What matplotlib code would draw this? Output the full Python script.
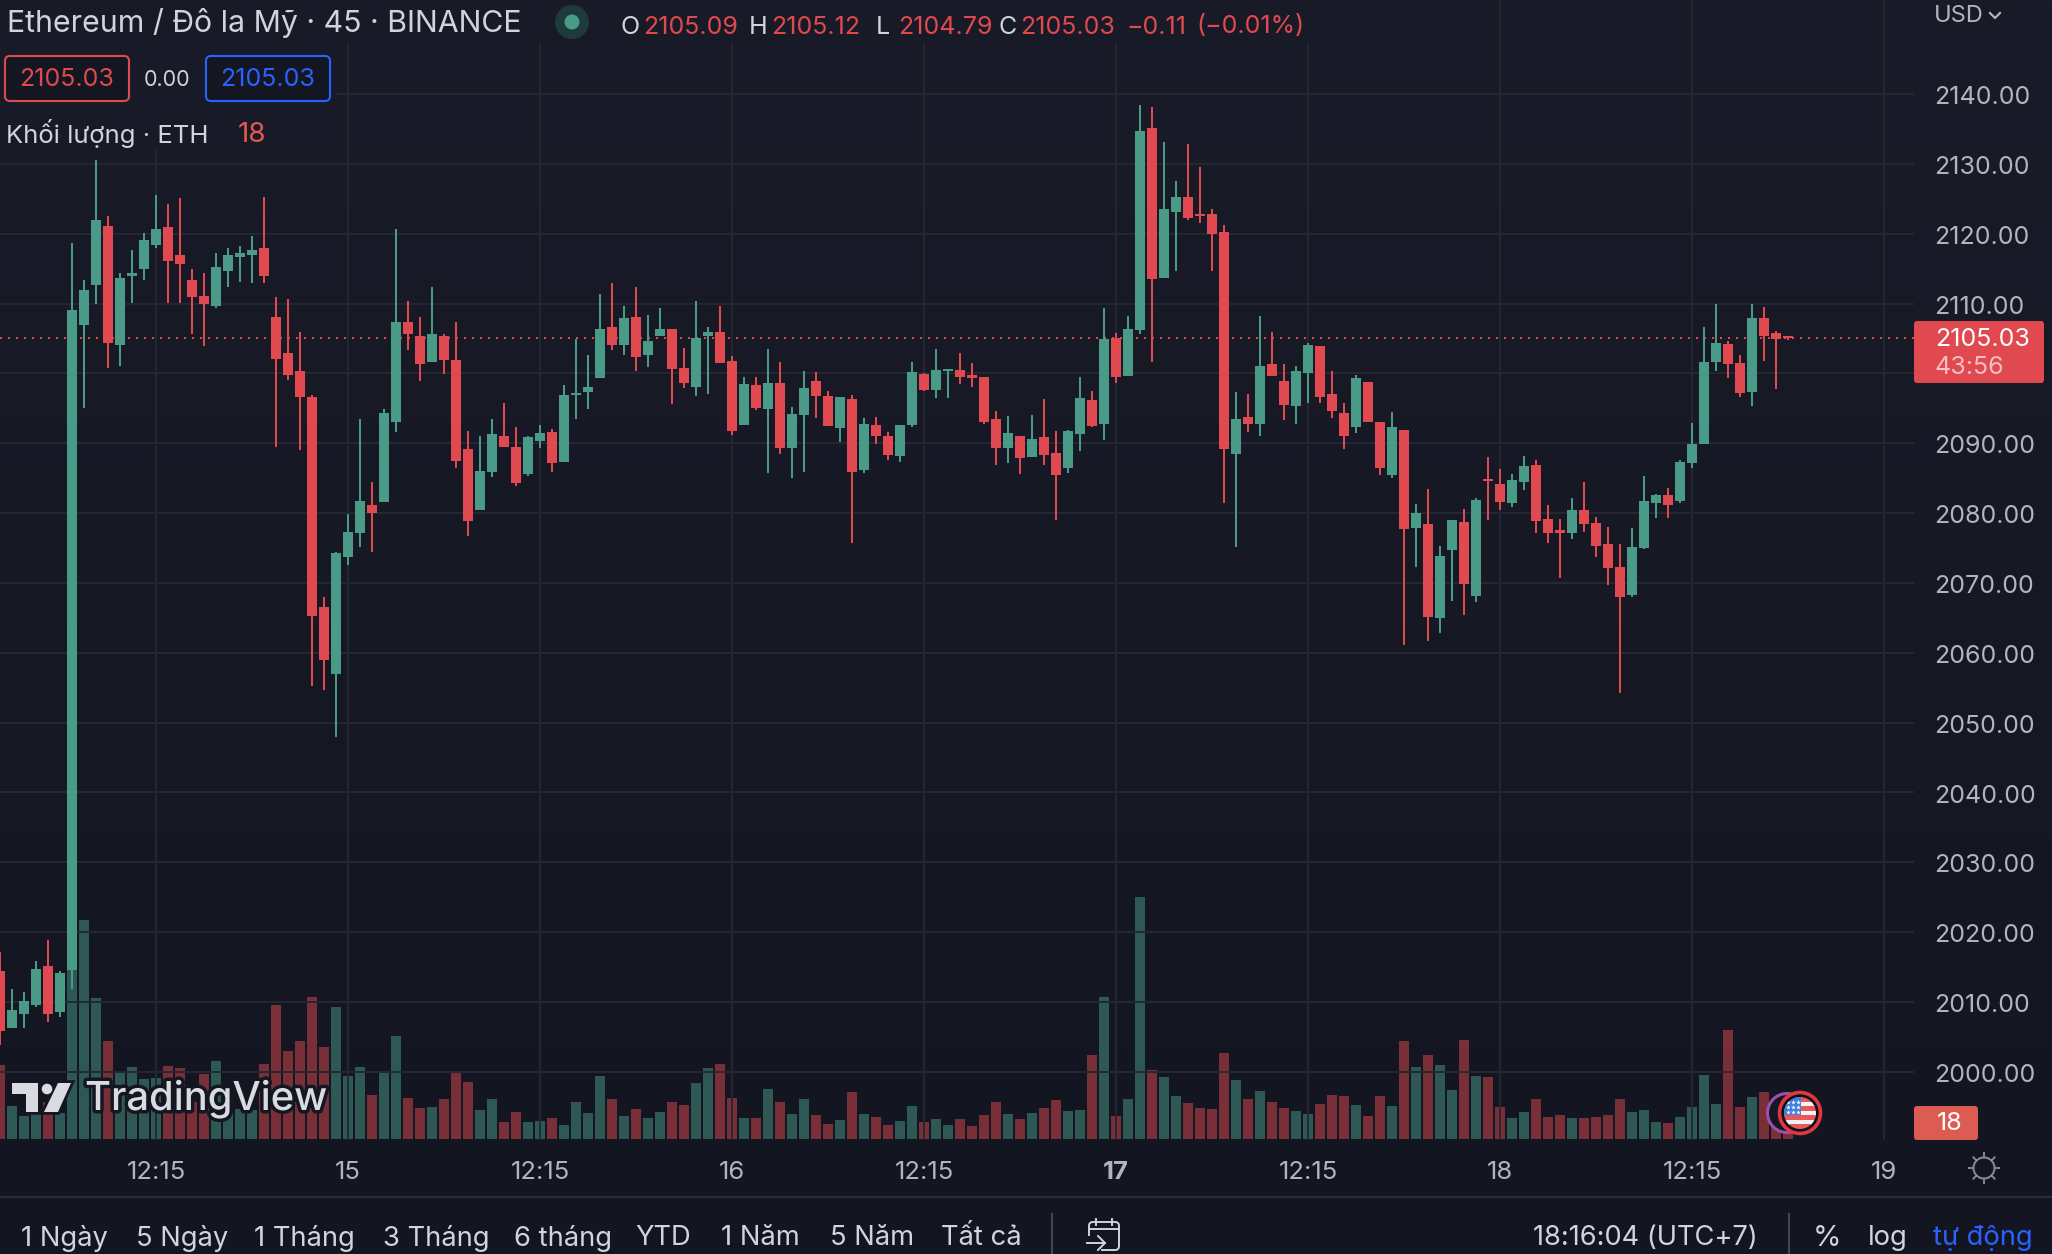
import numpy as np
import matplotlib
matplotlib.use("Agg")
import matplotlib.pyplot as plt
import matplotlib.patheffects as pe
from matplotlib.patches import FancyBboxPatch, Circle, Rectangle, Polygon
from matplotlib.transforms import ScaledTranslation

plt.rcParams['font.family'] = ['Inter', 'DejaVu Sans']

W, H = 2052, 1254

opens = [2014.4,2006.3,2008.3,2009.5,2015.1,2008.5,2014.5,2106.9,2112.6,2121.1,
2104.0,2114.0,2115.0,2118.4,2120.9,2116.9,2113.4,2111.1,2109.7,2114.7,
2116.7,2117.0,2117.9,2108.1,2102.9,2100.3,2096.6,2066.6,2057.0,2073.7,
2077.1,2081.1,2081.6,2093.1,2107.3,2105.3,2101.6,2105.3,2101.9,2089.1,
2080.4,2085.9,2091.0,2089.4,2085.6,2090.3,2091.6,2087.3,2096.9,2097.3,
2099.3,2106.7,2104.0,2108.0,2102.6,2105.3,2106.3,2100.7,2098.1,2105.4,
2105.9,2101.8,2092.6,2098.4,2094.9,2098.6,2089.3,2094.1,2098.9,2096.8,
2092.2,2096.3,2086.2,2092.6,2091.0,2088.2,2092.6,2099.9,2097.6,2100.4,
2100.5,2099.7,2099.5,2093.5,2089.3,2091.0,2088.0,2090.9,2088.6,2086.5,
2091.3,2096.2,2092.8,2105.1,2099.6,2106.2,2135.1,2113.7,2123.1,2125.3,
2122.8,2122.8,2120.3,2088.4,2093.7,2092.7,2101.4,2098.9,2095.3,2100.1,
2103.9,2097.0,2094.3,2092.3,2098.7,2093.1,2085.4,2091.9,2077.8,2078.4,
2065.0,2074.7,2078.7,2068.1,2084.9,2084.1,2081.4,2084.4,2086.9,2079.1,
2077.6,2077.1,2080.4,2078.6,2075.6,2072.3,2068.3,2075.0,2081.5,2082.6,
2081.7,2087.1,2089.9,2101.6,2104.2,2101.5,2097.3,2107.9,2105.8,2105.09]

highs = [2017.1,2011.8,2011.4,2015.8,2018.8,2014.4,2118.7,2113.3,2130.6,2122.6,
2114.3,2117.6,2120.1,2125.6,2124.3,2125.1,2114.9,2114.3,2117.3,2118.0,
2118.3,2119.7,2125.3,2110.9,2110.7,2105.9,2096.9,2068.0,2074.4,2079.9,
2093.4,2084.4,2094.9,2120.6,2110.3,2108.1,2112.4,2105.6,2107.4,2091.7,
2091.1,2093.4,2095.7,2092.3,2091.0,2092.6,2092.0,2098.3,2104.9,2102.6,
2111.4,2113.0,2109.7,2112.3,2108.4,2109.4,2106.3,2103.6,2110.3,2106.7,
2109.7,2102.5,2099.5,2099.5,2103.5,2101.6,2095.2,2100.4,2100.2,2097.5,
2096.6,2096.9,2093.6,2093.7,2091.6,2092.6,2101.6,2100.1,2103.5,2100.6,
2102.9,2101.5,2099.5,2094.6,2093.9,2091.0,2094.1,2096.3,2091.8,2091.9,
2099.5,2097.5,2109.4,2105.8,2108.2,2138.4,2138.1,2133.1,2127.6,2132.8,
2129.6,2123.5,2121.2,2097.3,2097.1,2108.2,2105.9,2101.3,2101.0,2104.3,
2103.9,2100.3,2095.7,2099.7,2098.7,2093.1,2094.4,2091.9,2081.3,2083.4,
2075.3,2079.0,2080.6,2082.1,2088.0,2086.3,2085.6,2088.1,2087.6,2081.1,
2079.1,2082.1,2084.4,2079.4,2078.0,2075.6,2077.8,2085.3,2082.7,2083.6,
2087.6,2092.9,2106.6,2109.9,2104.6,2102.7,2110.0,2109.5,2106.0,2105.12]

lows = [2003.8,2006.3,2006.3,2009.3,2007.1,2007.8,2011.9,2095.0,2109.9,2100.7,
2101.1,2110.1,2113.4,2117.9,2110.1,2110.1,2105.6,2103.9,2109.4,2112.4,
2113.1,2112.9,2113.0,2089.4,2099.1,2089.0,2055.3,2054.7,2047.9,2072.6,
2075.1,2074.4,2081.6,2091.6,2103.3,2098.9,2101.6,2099.9,2086.4,2076.7,
2080.4,2085.1,2089.4,2083.9,2085.3,2089.3,2085.9,2087.3,2093.4,2094.9,
2099.3,2103.4,2102.7,2100.4,2100.9,2105.3,2095.6,2097.9,2096.7,2097.1,
2101.5,2091.2,2092.6,2094.8,2085.8,2088.5,2085.0,2085.9,2093.6,2092.5,
2090.2,2075.7,2085.8,2089.9,2087.6,2087.3,2092.3,2097.5,2096.5,2096.5,
2098.5,2098.1,2092.8,2086.9,2087.2,2085.6,2088.0,2086.9,2079.0,2085.8,
2088.9,2092.3,2090.5,2098.6,2099.6,2105.6,2101.6,2113.7,2114.6,2121.9,
2121.6,2114.6,2081.5,2075.2,2091.6,2091.0,2099.6,2093.3,2092.8,2095.8,
2095.7,2093.6,2089.1,2091.4,2093.1,2085.4,2085.0,2061.1,2072.3,2061.7,
2062.8,2067.4,2065.4,2067.3,2079.0,2080.4,2080.8,2083.3,2077.1,2075.7,
2070.7,2076.3,2077.3,2073.7,2069.7,2054.2,2068.0,2074.8,2079.3,2079.3,
2081.4,2086.4,2089.9,2100.3,2099.3,2096.6,2095.3,2101.7,2097.7,2104.79]

closes = [2005.8,2008.8,2010.2,2014.7,2008.2,2014.2,2109.1,2111.9,2122.0,2104.3,
2113.6,2114.4,2119.1,2120.6,2116.1,2115.7,2111.0,2109.9,2115.3,2116.9,
2117.3,2117.7,2114.0,2102.1,2099.7,2096.6,2065.3,2058.9,2074.3,2077.3,
2081.7,2080.0,2094.3,2107.4,2105.6,2101.3,2105.7,2101.9,2087.4,2078.9,
2086.0,2091.3,2089.4,2084.3,2090.9,2091.4,2087.1,2096.9,2097.1,2098.1,
2106.3,2104.1,2107.9,2102.3,2104.6,2106.4,2100.6,2098.6,2105.1,2105.9,
2101.5,2091.8,2098.5,2095.1,2098.6,2089.3,2094.2,2097.9,2096.8,2092.5,
2096.6,2085.9,2092.8,2091.0,2088.3,2092.6,2100.2,2097.6,2100.5,2100.6,
2099.5,2099.4,2093.1,2089.3,2091.5,2087.9,2090.6,2088.3,2085.5,2091.8,
2096.5,2092.5,2104.9,2099.5,2106.4,2134.7,2113.5,2123.5,2125.3,2122.2,
2122.5,2120.0,2089.1,2093.4,2092.8,2101.0,2099.6,2095.4,2100.4,2104.0,
2096.6,2094.6,2091.1,2099.4,2093.1,2086.4,2092.3,2077.7,2080.0,2065.1,
2073.8,2079.0,2069.8,2081.9,2084.6,2081.6,2084.7,2086.7,2078.8,2077.1,
2077.2,2080.4,2078.4,2075.3,2072.1,2068.0,2075.1,2081.7,2082.6,2081.1,
2087.3,2089.9,2101.6,2104.3,2101.3,2097.2,2107.9,2105.3,2104.9,2105.03]

volumes = [222,99,69,77,111,77,527,657,423,294,
198,216,180,183,219,213,110,195,234,87,
90,87,225,402,264,294,426,276,396,189,
216,132,204,309,123,93,96,120,198,171,
87,120,51,81,51,54,63,42,111,78,
189,120,69,90,63,81,111,102,168,213,
225,123,63,63,150,111,75,120,72,45,
57,141,75,66,42,54,99,51,60,42,
60,39,72,111,75,60,78,93,117,84,
87,252,426,69,120,726,207,186,129,108,
93,90,258,177,120,144,111,93,84,75,
105,132,129,102,69,129,99,294,216,252,
222,147,297,189,186,96,63,81,120,66,
72,63,63,66,72,120,81,87,51,48,
66,96,192,105,327,96,126,141,77,18]

price_ticks = [2000,2010,2020,2030,2040,2050,2060,2070,2080,2090,2100,2110,2120,2130,2140]
price_labels = ['2000.00','2010.00','2020.00','2030.00','2040.00','2050.00','2060.00','2070.00',
                '2080.00','2090.00','','2110.00','2120.00','2130.00','2140.00']
time_ticks = [13,29,45,61,77,93,109,125,141,157]
time_labels = ['12:15','15','12:15','16','12:15','17','12:15','18','12:15','19']
last_price = 2105.03
range_buttons = [('1 Ngày',21),('5 Ngày',136),('1 Tháng',254),('3 Tháng',383),('6 tháng',514),
                 ('YTD',635),('1 Năm',721),('5 Năm',830),('Tất cả',941)]

UP, DOWN = '#499a86', '#e0494f'
TXT, AX = '#d1d4dc', '#b2b5be'
GRID = '#252833'

fig = plt.figure(figsize=(W/100, H/100), dpi=100)
def rect(x0, y0, x1, y1):
    return [x0/W, 1-y1/H, (x1-x0)/W, (y1-y0)/H]

# background gradient
bg = fig.add_axes([0,0,1,1], zorder=0); bg.axis('off')
c0, c1 = np.array([0x19,0x1c,0x28])/255, np.array([0x13,0x16,0x20])/255
t = np.linspace(0,1,256)[:,None,None]
bg.imshow(c0*(1-t)+c1*t, aspect='auto', extent=[0,1,0,1])

PLOT_R, PLOT_B = 1914, 1140
# volume pane
av = fig.add_axes(rect(0,0,PLOT_R,PLOT_B), zorder=1)
av.patch.set_alpha(0)
av.set_xlim(0, PLOT_R/12); av.set_ylim(-3, PLOT_B*3-3)
x = np.arange(len(opens))
o, h, l, c = map(np.array, (opens, highs, lows, closes))
cols = np.where(c >= o, UP, DOWN)
av.bar(x, volumes, width=10/12, color=list(cols), alpha=0.5, linewidth=0)
av.axis('off')

# price pane
ax = fig.add_axes(rect(0,0,PLOT_R,PLOT_B), zorder=2)
ax.patch.set_alpha(0)
ax.set_xlim(0, PLOT_R/12)
ax.set_ylim(2140-(PLOT_B-94)/6.984, 2140+94/6.984)
for s in ax.spines.values(): s.set_visible(False)
ax.yaxis.tick_right()
ax.set_yticks(price_ticks); ax.set_yticklabels(price_labels)
ax.set_xticks(time_ticks); ax.set_xticklabels(time_labels)
ax.tick_params(axis='y', length=0, pad=14.5, labelsize=18, labelcolor=AX)
ax.tick_params(axis='x', length=0, pad=15, labelsize=18.5, labelcolor=AX)
ax.get_xticklabels()[5].set_fontweight('bold')
down = ScaledTranslation(0, -1.2/100, fig.dpi_scale_trans)
for lb in ax.get_yticklabels():
    lb.set_transform(lb.get_transform() + down)
ax.grid(True, color=GRID, lw=1.4, zorder=0)
ax.set_axisbelow(True)
ax.vlines(x, l, h, colors=list(cols), lw=1.44, zorder=3)
ax.bar(x, np.maximum(np.abs(c-o), 0.25), bottom=np.minimum(o,c), width=10/12, color=list(cols), linewidth=0, zorder=4)
ax.axhline(last_price, color=DOWN, lw=1.44, ls=(0,(1,3)), zorder=2.5)

# overlay chrome in pixel coordinates
ov = fig.add_axes([0,0,1,1], zorder=5)
ov.set_xlim(0,W); ov.set_ylim(H,0); ov.axis('off'); ov.patch.set_alpha(0)

def T(px, py, s, color=TXT, size=17, ha='left', va='center', **kw):
    return ov.text(px, py, s, color=color, fontsize=size, ha=ha, va=va, **kw)

BG = '#181b27'
for r in [(0,0,1310,44),(0,44,335,108),(0,108,280,150)]:
    ov.add_patch(Rectangle((r[0],r[1]), r[2]-r[0], r[3]-r[1], fc=BG, ec='none', zorder=0))

# header
T(7, 23, 'Ethereum / Đô la Mỹ · 45 · BINANCE', size=21.8)
ov.add_patch(Circle((572,22), 17, fc='#1f3a3c', ec='none'))
ov.add_patch(Circle((572,22), 7.5, fc=UP, ec='none'))
R = DOWN
for px, s, col in [(621,'O',TXT),(643,'2105.09',R),(749,'H',TXT),(771,'2105.12',R),(876,'L',TXT),
                   (898,'2104.79',R),(998,'C',TXT),(1020,'2105.03',R),(1126,'−0.11',R),(1196,'(−0.01%)',R)]:
    T(px, 27, s, col, size=18)

ov.add_patch(FancyBboxPatch((5,56),124,45, boxstyle='round,pad=0,rounding_size=5', fc='#141722', ec=DOWN, lw=1.5))
ov.add_patch(FancyBboxPatch((206,56),124,45, boxstyle='round,pad=0,rounding_size=5', fc='#141722', ec='#2962ff', lw=1.5))
T(67, 80, '2105.03', DOWN, size=18, ha='center')
T(167, 80, '0.00', TXT, size=15.5, ha='center')
T(268, 80, '2105.03', '#2962ff', size=18, ha='center')
T(6, 134, 'Khối lượng · ETH', TXT, size=18.5)
T(238, 135.5, '18', '#e05a50', size=20)

# right scale
T(1934, 16.5, 'USD', AX, size=17)
ov.plot([1990,1995,2000],[13,18,13], color=AX, lw=1.6)
ov.add_patch(FancyBboxPatch((1914,321),130,62, boxstyle='round,pad=0,rounding_size=3', fc=DOWN, ec='none'))
T(1935, 339, '2105.03', 'white', size=18)
T(1935, 367, '43:56', '#f3bfc2', size=18)
ov.add_patch(FancyBboxPatch((1914,1106),64,34, boxstyle='round,pad=0,rounding_size=3', fc='#dc5b52', ec='none'))
T(1950, 1124, '18', 'white', size=18, ha='center')

# sun icon
ov.add_patch(Circle((1984,1168), 10.5, fc='none', ec='#868993', lw=1.5))
for a in np.arange(8)*np.pi/4:
    ov.plot([1984+11*np.cos(a), 1984+15*np.cos(a)], [1168+11*np.sin(a), 1168+15*np.sin(a)], color='#868993', lw=1.4)

# bottom bar
ov.plot([0,W],[1197,1197], color='#2a2e39', lw=1.5)
ov.plot([1052,1052],[1214,H], color='#434651', lw=1.5)
ov.plot([1789,1789],[1214,H], color='#434651', lw=1.5)
for s, px in range_buttons:
    T(px, 1238, s, TXT, size=19.7)
T(1533, 1238, '18:16:04 (UTC+7)', TXT, size=19.6)
T(1827, 1238, '%', TXT, size=21, ha='center')
T(1888, 1238, 'log', TXT, size=19.7, ha='center')
T(1983, 1238, 'tự động', '#2962ff', size=19.7, ha='center')
# calendar icon
ov.add_patch(FancyBboxPatch((1089,1222),30,28, boxstyle='round,pad=0,rounding_size=4', fc='#141722', ec=TXT, lw=1.4))
ov.plot([1089,1119],[1229,1229], color=TXT, lw=1.4)
ov.plot([1096,1096],[1219,1225], color=TXT, lw=1.4); ov.plot([1112,1112],[1219,1225], color=TXT, lw=1.4)
ov.add_patch(Rectangle((1085,1236),16,18, fc='#141722', ec='none'))
ov.plot([1087,1105],[1243,1243], color=TXT, lw=1.4)
ov.plot([1098,1105,1098],[1236,1243,1250], color=TXT, lw=1.4)

# logo
halo = [pe.withStroke(linewidth=5, foreground='#141722')]
lg = T(85, 1099, 'TradingView', '#d9dbe1', size=28.7, fontweight='medium')
lg.set_path_effects(halo)
LC = '#d9dbe1'
for poly in [[(12,1083),(38,1083),(38,1112),(26,1112),(26,1094),(12,1094)],
             [(58,1083),(71,1083),(58,1112),(44,1112)]]:
    p = Polygon(poly, fc=LC, ec='none', zorder=6)
    p.set_path_effects([pe.withStroke(linewidth=4, foreground='#141722')])
    ov.add_patch(p)
ov.add_patch(Circle((47,1089), 6, fc=LC, ec='#141722', lw=1, zorder=6))

# event marker
ov.add_patch(Circle((1787,1113), 19.5, fc='#141722', ec='#9b4fb5', lw=2.2, zorder=7))
ov.add_patch(Circle((1800,1113), 20.5, fc='#0f1118', ec='#e0363d', lw=2.6, zorder=8))
clip = Circle((1800,1113), 16, transform=ov.transData)
for i in range(7):
    fc = '#e8575a' if i % 2 == 0 else '#f2f2f2'
    r = Rectangle((1784, 1097+i*32/7), 32, 32/7+0.5, fc=fc, ec='none', zorder=9)
    ov.add_patch(r); r.set_clip_path(clip)
r = Rectangle((1784,1097), 17, 18, fc='#3b7de0', ec='none', zorder=10)
ov.add_patch(r); r.set_clip_path(clip)
for px in (1788,1793,1798):
    for py in (1102,1107,1112):
        st = ov.plot([px],[py], marker='*', ms=3.5, color='white', mew=0, zorder=11)[0]
        st.set_clip_path(clip)

fig.savefig('out.png', dpi=100, facecolor='#161924')
